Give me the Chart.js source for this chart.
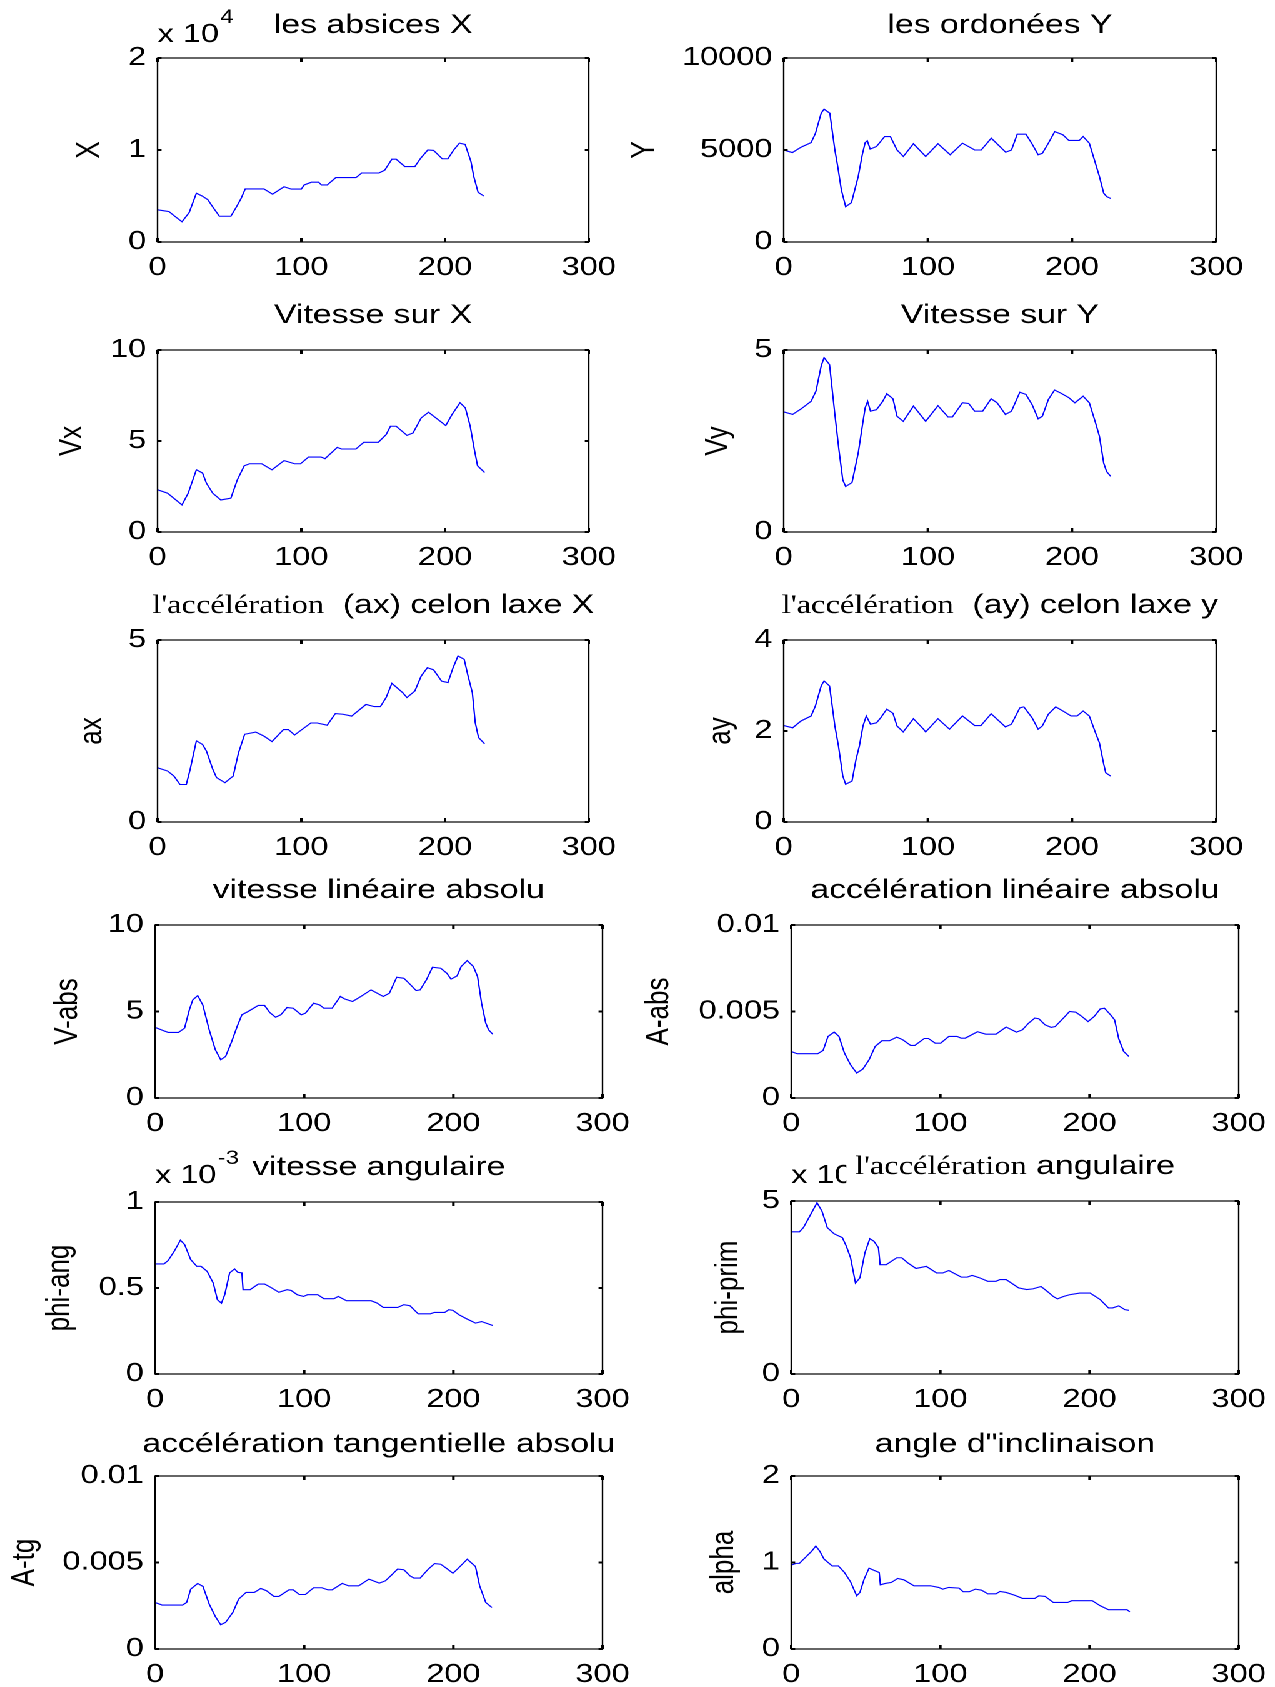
<!DOCTYPE html>
<html><head><meta charset="utf-8">
<script src="https://cdn.jsdelivr.net/npm/chart.js@4.4.1/dist/chart.umd.min.js"></script>
<style>
html,body{margin:0;padding:0;background:#fff;width:1275px;height:1687px;overflow:hidden}
#stage{position:absolute;left:0;top:0;width:1020px;height:1687px;transform:scaleX(1.25);transform-origin:0 0}
#stage canvas{position:absolute}
</style></head><body><div id="stage"></div>
<script>
// ---------------- data ----------------
const xTicks = [0, 100, 200, 300];

const absX_t = [0,4,8,12,17,22,27,31,35,38,43,51,55,58,61,74,80,88,93,100,102,107,112,114,118,124,138,142,154,158,163,166,172,179,183,188,192,198,202,206,210,214,218,220,223,227];
const absX_v = [3500,3400,3300,2800,2200,3200,5300,5000,4600,3900,2800,2800,3850,4700,5770,5770,5200,6000,5750,5750,6200,6500,6500,6200,6200,7000,7000,7500,7500,7800,9000,9000,8200,8200,9100,10000,9950,9050,9050,10000,10750,10600,8750,7100,5400,5000];
const absX_ticks = [0, 10000, 20000];

const ordY_t = [0,6,12,19,22,26,28,32,35.5,37.5,40,43,47,51.7,54.5,56.5,58,60,64.4,70,74,78.6,83,90,98.5,107,115.5,124,132.5,137,144,154,158,162,168,172,176.5,179.4,183.6,188,193.6,197.8,205,207.7,212,214.8,219,222,224,227];
const ordY_v = [5000,4860,5150,5400,5900,7000,7220,7000,5000,4100,2830,1920,2140,3560,4740,5400,5500,5050,5190,5730,5730,5000,4650,5340,4650,5340,4740,5370,5000,5000,5640,4880,5000,5860,5860,5370,4740,4820,5370,6000,5830,5520,5520,5730,5370,4650,3560,2650,2470,2360];
const ordY_ticks = [0, 5000, 10000];

const vx_t = [0,7,17,21.3,27,31.3,34,38.4,44,51,55.5,60.3,64,72.5,79.6,88,95.3,99.5,105,113.7,116.5,125,128,138,143.5,153.6,159,162,166,173.5,177.7,183.4,188.5,200.5,204.8,210.4,214.1,217.5,220.4,222.6,227.5];
const vx_v = [2.32,2.13,1.49,2.13,3.42,3.24,2.68,2.13,1.76,1.86,2.87,3.64,3.75,3.75,3.42,3.92,3.75,3.75,4.12,4.12,4.03,4.65,4.56,4.56,4.93,4.93,5.35,5.81,5.81,5.31,5.44,6.27,6.58,5.85,6.45,7.10,6.82,5.81,4.52,3.64,3.27];
const vx_ticks = [0, 5, 10];

const vy_t = [0,6.2,12,19,22.4,26,28,31.8,35.5,38.3,41,43,47.4,51.7,54.5,56.5,58.2,60.2,64.4,68.7,71.5,75.8,78.6,82.9,90,98.5,107,114,117,124,128.3,132.5,138,143.9,148,153.8,158,163.8,168,172.3,176.5,179.4,183.6,187.9,192,197.8,202,207.7,212,216.3,219,222,224,226.8];
const vy_v = [3.30,3.23,3.38,3.59,3.87,4.56,4.79,4.60,3.23,2.26,1.43,1.25,1.36,2.17,2.90,3.41,3.59,3.32,3.36,3.59,3.80,3.66,3.18,3.04,3.46,3.04,3.47,3.16,3.16,3.55,3.53,3.32,3.32,3.66,3.55,3.23,3.32,3.84,3.78,3.50,3.11,3.18,3.64,3.90,3.82,3.69,3.55,3.73,3.55,3.00,2.63,1.89,1.66,1.53];
const vy_ticks = [0, 5];

const ax_t = [0,7,11.4,15.6,20,22.7,27,31.3,34,38.4,41,46.9,52.6,56.3,60.6,68.3,74,79.6,87.6,91,95.3,106.6,111,118,123.7,129,135,145,150.7,155,159,163,170.6,173.5,179,183.4,187.7,192,197.6,202,205.6,209,213.3,216,219,221,223.3,227.5];
const ax_v = [1.49,1.40,1.26,1.03,1.03,1.45,2.23,2.13,1.95,1.45,1.22,1.08,1.26,1.90,2.41,2.47,2.36,2.21,2.54,2.54,2.39,2.72,2.72,2.66,2.98,2.96,2.91,3.23,3.17,3.17,3.42,3.81,3.55,3.42,3.60,4.01,4.24,4.18,3.87,3.83,4.24,4.56,4.47,4.01,3.55,2.73,2.32,2.15];
const ax_ticks = [0, 5];

const ay_t = [0,6.2,12,19,22,26,28,31.8,35.5,38,41,43,47.4,50.2,52.5,55,57.3,60.2,64.4,67.3,71.5,75.8,78.6,82.9,90,97,98.5,107,115,124,132.5,136.8,143.9,153.8,158,163.8,166.6,172.3,176.5,179.4,183.6,188.7,193.6,199.3,203.5,207.7,212,216.3,219,222,223.4,226.8];
const ay_v = [2.12,2.07,2.22,2.33,2.55,2.99,3.10,2.99,2.11,1.67,1.01,0.83,0.90,1.38,1.67,2.11,2.33,2.15,2.18,2.29,2.48,2.39,2.11,1.98,2.27,2.04,1.98,2.27,2.04,2.33,2.12,2.12,2.38,2.09,2.15,2.51,2.53,2.29,2.04,2.11,2.37,2.53,2.44,2.33,2.33,2.44,2.33,1.96,1.74,1.27,1.08,1.01];
const ay_ticks = [0, 2, 4];

const vabs_t = [0,6,8.8,15.7,19.8,23,25.3,28.6,32,36.3,40.4,44,47.3,51.4,55,58.2,62.4,69.2,73.4,76.9,80.8,84.3,88.5,92.6,98,100.8,106.3,110.4,113.2,118.7,124.2,127,132.4,138,144.8,153,157.1,162,166.8,170.9,175,177.7,181.9,186,191.5,195.6,198.4,202.5,205.2,209.3,213.4,216.2,218.9,221.7,223.6,226.4];
const vabs_v = [4.08,3.88,3.79,3.79,4.04,5.10,5.67,5.92,5.38,3.94,2.79,2.21,2.40,3.27,4.13,4.81,5.00,5.35,5.35,4.94,4.67,4.81,5.23,5.19,4.81,4.90,5.48,5.38,5.19,5.19,5.87,5.73,5.58,5.87,6.25,5.87,6.06,6.98,6.92,6.58,6.21,6.25,6.83,7.56,7.50,7.21,6.87,7.06,7.60,7.94,7.60,7.02,5.48,4.33,3.94,3.69];
const vabs_ticks = [0, 5, 10];

const aabs_t = [0,4,17.8,21.4,24.7,28.8,32,35.7,39.8,43.9,48,52.2,56.3,60.9,65.9,70.8,74.7,80.1,82.9,89.2,92,96.6,100.2,105.7,111.2,113.9,116.7,124.9,130.4,137.3,144.1,151,155,159.2,163.3,166,170.2,174.3,177,182.5,186.6,190.8,194.9,199,203.1,207.2,210,214.1,216.8,219.6,222.9,226.4];
const aabs_v = [0.00269,0.00256,0.00256,0.00275,0.00356,0.00381,0.00356,0.0026,0.00192,0.00144,0.00167,0.00221,0.00298,0.00331,0.00331,0.00352,0.00337,0.00304,0.00304,0.00344,0.00344,0.00317,0.00317,0.00356,0.00356,0.00346,0.00346,0.00383,0.00369,0.00369,0.0041,0.00381,0.00394,0.00433,0.00462,0.00458,0.00423,0.00408,0.00413,0.00462,0.005,0.00496,0.00471,0.00442,0.00471,0.00515,0.00519,0.00481,0.00452,0.00342,0.00269,0.0024];
const aabs_ticks = [0, 0.005, 0.01];

const phiAng_t = [0,6,8.8,12.9,17,19.8,23.9,28,30.8,34.9,39,41.8,44.5,46.7,50,53.3,55.5,58.2,59,63.7,69.2,73.4,77.5,83,88.5,91.2,95.3,99.5,102.2,109,113.2,120,122.8,128.3,144.8,148.9,153,162.6,166.8,170.9,176.4,184.6,187.3,194.2,196.9,199.7,203.8,209.3,214.8,218.9,223.1,226.4];
const phiAng_v = [6.40e-4,6.40e-4,6.60e-4,7.14e-4,7.78e-4,7.53e-4,6.65e-4,6.26e-4,6.26e-4,5.97e-4,5.29e-4,4.32e-4,4.12e-4,4.61e-4,5.88e-4,6.11e-4,5.91e-4,5.88e-4,4.90e-4,4.90e-4,5.23e-4,5.23e-4,5.04e-4,4.75e-4,4.90e-4,4.86e-4,4.61e-4,4.51e-4,4.61e-4,4.61e-4,4.38e-4,4.38e-4,4.51e-4,4.26e-4,4.26e-4,4.12e-4,3.87e-4,3.87e-4,4.03e-4,3.97e-4,3.50e-4,3.50e-4,3.58e-4,3.58e-4,3.74e-4,3.70e-4,3.44e-4,3.19e-4,2.96e-4,3.05e-4,2.92e-4,2.82e-4];
const phiAng_ticks = [0, 0.5e-3, 1e-3];

const phiPrim_t = [0,5.5,8.2,12.4,17.3,20.6,24.2,28.8,34.3,37,39.8,43.1,46.1,49.4,52.7,55.4,58.5,59.6,63.7,67.3,70.8,74.1,78.2,83.7,90.6,97.5,101.6,105.7,114,118,121.3,126.3,131.8,137.3,140,144.1,152.4,157.9,162,167.5,171.6,175.7,178.5,182.5,186.6,193.5,200.4,207.2,212.7,215.5,219.6,223.7,226.4];
const phiPrim_v = [4.11,4.11,4.23,4.56,4.95,4.71,4.23,4.05,3.94,3.69,3.36,2.63,2.78,3.50,3.91,3.84,3.65,3.16,3.16,3.26,3.36,3.36,3.21,3.05,3.11,2.92,2.92,2.99,2.80,2.80,2.85,2.78,2.68,2.68,2.73,2.73,2.49,2.44,2.46,2.53,2.39,2.24,2.17,2.24,2.29,2.34,2.34,2.15,1.91,1.91,1.97,1.86,1.84];
const phiPrim_ticks = [0, 5];

const atg_t = [0,4.7,18.4,21.2,23.9,28.6,32.1,36.3,40.4,44,47.3,52.2,56,61,66.5,70.9,74.7,79.7,83,89.8,92.6,96.7,100.8,106.3,111.8,115.9,118.7,125.5,129.7,136.5,143.4,150.3,154.4,158.5,162.6,166.8,170.9,173.6,177.7,183.2,187.4,191.5,195.6,199.7,203.3,209.3,214.8,217.6,221.7,225.8];
const atg_v = [0.00269,0.00254,0.00254,0.00269,0.00346,0.00379,0.00362,0.0026,0.00188,0.0014,0.00154,0.00212,0.00288,0.00327,0.00327,0.0035,0.00337,0.00304,0.00304,0.00342,0.00342,0.00315,0.00315,0.00354,0.00354,0.00342,0.00342,0.00379,0.00365,0.00365,0.00404,0.00381,0.00394,0.00427,0.00462,0.00458,0.00423,0.0041,0.0041,0.00462,0.00494,0.0049,0.00465,0.00438,0.00467,0.00519,0.00477,0.00365,0.00269,0.0024];
const atg_ticks = [0, 0.005, 0.01];

const alpha_t = [0,3.3,5.5,9.6,13.7,16.5,19.2,22,27.5,31.6,35.7,39.8,43.9,46.1,48.9,52.2,55.4,59,59.8,63.1,67.2,71.4,75.5,82.3,93.3,98.8,101.6,105.7,112.5,115.3,119.4,123.5,127.6,131.8,137.3,140,144.1,149.6,155.1,163.3,166,170.2,175.7,185.3,188.1,201.8,207.2,212.7,225.1,227];
const alpha_v = [0.97,0.99,0.99,1.06,1.13,1.19,1.13,1.04,0.96,0.96,0.885,0.777,0.615,0.654,0.808,0.935,0.91,0.885,0.742,0.758,0.77,0.815,0.80,0.731,0.731,0.712,0.692,0.712,0.704,0.662,0.662,0.692,0.68,0.638,0.638,0.665,0.654,0.623,0.585,0.585,0.615,0.608,0.538,0.538,0.558,0.558,0.50,0.454,0.454,0.43];
const alpha_ticks = [0, 1, 2];

// ---------------- layout / styling ----------------
const SX = 1.25;            // horizontal stretch of the original figure
const SANS = "'Liberation Sans', Arial, sans-serif";
const SERIF = "'Liberation Serif', 'Times New Roman', serif";
const FS = 26;
const LW = 150, RW = 40, TH = 70, BH = 50;

const panels = [
  {t:absX_t, v:absX_v, ticks:absX_ticks, div:1e4, box:[158,58,589,242], ylabel:'X', yd:68, title:[['les absices X',0]], rise:25, exp:{base:'x 10', sup:'4', rise:16, supRise:35}},
  {t:ordY_t, v:ordY_v, ticks:ordY_ticks, div:1, box:[784,58,1216,242], ylabel:'Y', yd:139, title:[['les ordonées Y',0]], rise:25},
  {t:vx_t, v:vx_v, ticks:vx_ticks, div:1, box:[158,350,589,532], ylabel:'Vx', yd:85, title:[['Vitesse sur X',0]], rise:27},
  {t:vy_t, v:vy_v, ticks:vy_ticks, div:1, box:[784,350,1216,532], ylabel:'Vy', yd:65, title:[['Vitesse sur Y',0]], rise:27},
  {t:ax_t, v:ax_v, ticks:ax_ticks, div:1, box:[158,640,589,822], ylabel:'ax', yd:65, title:[["l'accélération",1],['  (ax) celon laxe X',0]], rise:27},
  {t:ay_t, v:ay_v, ticks:ay_ticks, div:1, box:[784,640,1216,822], ylabel:'ay', yd:63, title:[["l'accélération",1],['  (ay) celon laxe y',0]], rise:27},
  {t:vabs_t, v:vabs_v, ticks:vabs_ticks, div:1, box:[155,925,602,1098], ylabel:'V-abs', yd:87, title:[['vitesse linéaire absolu',0]], rise:27},
  {t:aabs_t, v:aabs_v, ticks:aabs_ticks, div:1, box:[791,925,1238,1098], ylabel:'A-abs', yd:132, title:[['accélération linéaire absolu',0]], rise:27},
  {t:phiAng_t, v:phiAng_v, ticks:phiAng_ticks, div:1e-3, box:[155,1202,602,1374], ylabel:'phi-ang', yd:95, title:[['vitesse angulaire',0]], rise:27, exp:{base:'x 10', sup:'-3', rise:19, supRise:38}},
  {t:phiPrim_t, v:phiPrim_v, ticks:phiPrim_ticks, div:1, box:[791,1201,1239,1374], ylabel:'phi-prim', yd:63, title:[["l'accélération",1],[' angulaire',0]], rise:27, exp:{base:'x 10', rise:18, clip:true}},
  {t:atg_t, v:atg_v, ticks:atg_ticks, div:1, box:[155,1476,602,1649], ylabel:'A-tg', yd:130, title:[['accélération tangentielle absolu',0]], rise:24},
  {t:alpha_t, v:alpha_v, ticks:alpha_ticks, div:1, box:[791,1476,1239,1649], ylabel:'alpha', yd:67, title:[["angle d\"inclinaison",0]], rise:24}
];

function fmt(v) { return String(parseFloat(v.toPrecision(6))); }

const boxPlugin = {
  id: 'matBox',
  afterDatasetsDraw(chart) {
    const {ctx, chartArea: a, scales: {x, y}} = chart;
    ctx.save();
    ctx.strokeStyle = '#000';
    ctx.lineWidth = 1.2;
    ctx.strokeRect(a.left, a.top, a.right - a.left, a.bottom - a.top);
    ctx.lineWidth = 2;
    const tl = 4;
    ctx.beginPath();
    x.ticks.forEach(t => {
      const px = x.getPixelForValue(t.value);
      ctx.moveTo(px, a.bottom); ctx.lineTo(px, a.bottom - tl);
      ctx.moveTo(px, a.top); ctx.lineTo(px, a.top + tl);
    });
    y.ticks.forEach(t => {
      const py = y.getPixelForValue(t.value);
      ctx.moveTo(a.left, py); ctx.lineTo(a.left + tl / SX, py);
      ctx.moveTo(a.right, py); ctx.lineTo(a.right - tl / SX, py);
    });
    ctx.stroke();
    ctx.restore();
  }
};

function titlePlugin(p, i) {
  return {
    id: 'matTitle' + i,
    afterDraw(chart) {
      const ctx = chart.ctx, a = chart.chartArea;
      ctx.save();
      ctx.fillStyle = '#000';
      ctx.textAlign = 'left';
      ctx.textBaseline = 'alphabetic';
      const fonts = p.title.map(s => s[1] ? `26px ${SERIF}` : `27px ${SANS}`);
      const widths = p.title.map((s, k) => { ctx.font = fonts[k]; return ctx.measureText(s[0]).width; });
      const total = widths.reduce((m, n) => m + n, 0);
      let x = (a.left + a.right) / 2 - total / 2;
      const y = a.top - p.rise;
      p.title.forEach((s, k) => { ctx.font = fonts[k]; ctx.fillText(s[0], x, y); x += widths[k]; });
      if (p.exp) {
        const e = p.exp;
        ctx.font = `${FS}px ${SANS}`;
        const bw = ctx.measureText(e.base).width;
        if (e.clip) { ctx.beginPath(); ctx.rect(0, 0, a.left + bw - 5, chart.height); ctx.clip(); }
        ctx.fillText(e.base, a.left, a.top - e.rise);
        if (e.sup) { ctx.font = `19px ${SANS}`; ctx.fillText(e.sup, a.left + bw + 1, a.top - e.supRise); }
      }
      ctx.restore();
    }
  };
}

const stage = document.getElementById('stage');
panels.forEach((p, i) => {
  const bl = p.box[0] / SX, br = p.box[2] / SX, bt = p.box[1], bb = p.box[3];
  const w = Math.round(br - bl) + LW + RW, h = (bb - bt) + TH + BH;
  const cv = document.createElement('canvas');
  cv.width = w; cv.height = h;
  cv.style.left = (bl - LW) + 'px';
  cv.style.top = (bt - TH) + 'px';
  stage.appendChild(cv);
  const yMax = p.ticks[p.ticks.length - 1];
  new Chart(cv, {
    type: 'line',
    data: { datasets: [{ data: p.t.map((x, k) => ({x, y: p.v[k]})), borderColor: '#0000ff', borderWidth: 1.1, pointRadius: 0, tension: 0, fill: false }] },
    options: {
      responsive: false, animation: false, devicePixelRatio: 2,
      layout: { padding: { left: 0, right: RW, top: TH, bottom: 0 } },
      plugins: { legend: { display: false }, tooltip: { enabled: false }, title: { display: false } },
      scales: {
        x: {
          type: 'linear', min: 0, max: 300,
          afterBuildTicks: s => { s.ticks = xTicks.map(v => ({value: v})); },
          ticks: { font: { family: SANS, size: FS }, color: '#000', padding: 10, maxRotation: 0, autoSkip: false },
          grid: { display: false, drawTicks: false, tickLength: 0 },
          border: { display: false },
          afterFit: s => { s.height = BH; }
        },
        y: {
          type: 'linear', min: 0, max: yMax,
          afterBuildTicks: s => { s.ticks = p.ticks.map(v => ({value: v})); },
          ticks: { font: { family: SANS, size: FS }, color: '#000', padding: 9, autoSkip: false, callback: v => fmt(v / p.div) },
          grid: { display: false, drawTicks: false, tickLength: 0 },
          border: { display: false },
          title: { display: true, text: p.ylabel, color: '#000', font: { family: SANS, size: FS, lineHeight: 1.2 }, padding: { top: LW - p.yd / SX - FS * 0.6, bottom: 0 } },
          afterFit: s => { s.width = LW; }
        }
      }
    },
    plugins: [boxPlugin, titlePlugin(p, i)]
  });
});
</script>
</body></html>
